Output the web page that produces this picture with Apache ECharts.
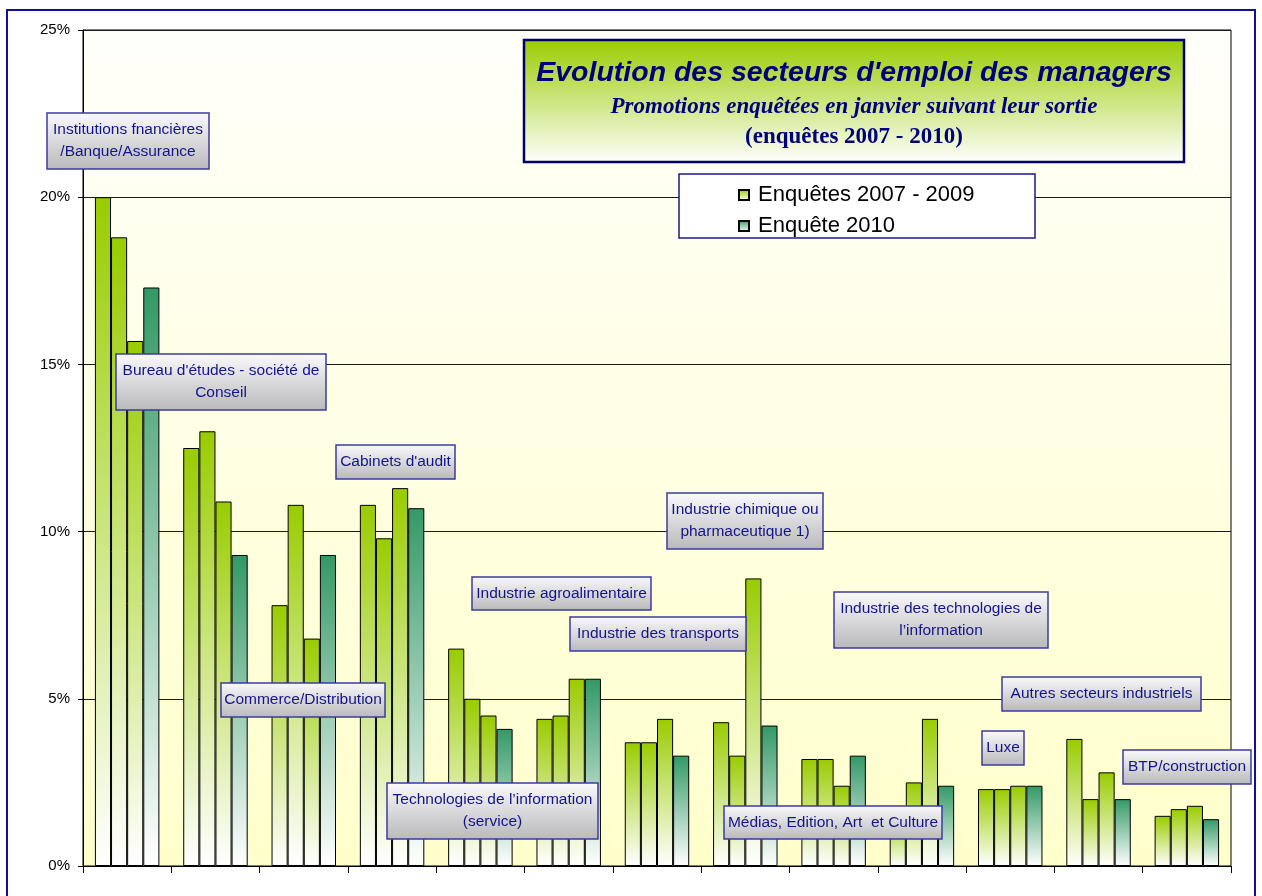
<!DOCTYPE html>
<html>
<head>
<meta charset="utf-8">
<title>Evolution des secteurs d'emploi des managers</title>
<script src="https://cdn.jsdelivr.net/npm/echarts@6/dist/echarts.min.js"></script>
<style>
  * { margin: 0; padding: 0; }
  html, body { background: #fff; }
  #chart { width: 1262px; height: 896px; }
</style>
</head>
<body>
<div id="chart"></div>
<script>
// secteurs, dans l'ordre des groupes de barres
var secteurs = [
  'Institutions fnancières\n/Banque/Assurance',
  "Bureau d'études - société de\nConseil",
  'Commerce/Distribution',
  "Cabinets d'audit",
  'Technologies de l’information\n(service)',
  'Industrie agroalimentaire',
  'Industrie des transports',
  'Industrie chimique ou\npharmaceutique 1)',
  'Médias, Edition, Art  et Culture',
  'Industrie des technologies de\nl’information',
  'Luxe',
  'Autres secteurs industriels',
  'BTP/construction'
];
// parts (%)
var enquete2007 = [20.0, 12.5, 7.8, 10.8, 6.5, 4.4, 3.7, 4.3, 3.2, 1.5, 2.3, 3.8, 1.5];
var enquete2008 = [18.8, 13.0, 10.8, 9.8, 5.0, 4.5, 3.7, 3.3, 3.2, 2.5, 2.3, 2.0, 1.7];
var enquete2009 = [15.7, 10.9, 6.8, 11.3, 4.5, 5.6, 4.4, 8.6, 2.4, 4.4, 2.4, 2.8, 1.8];
var enquete2010 = [17.3, 9.3, 9.3, 10.7, 4.1, 5.6, 3.3, 4.2, 3.3, 2.4, 2.4, 2.0, 1.4];
var yTicks = [0, 5, 10, 15, 20, 25];

var NOM_0709 = 'Enquêtes 2007 - 2009';
var NOM_2010 = 'Enquête 2010';

// boites des étiquettes de secteur [x, y, largeur, hauteur]
var boites = [
  [47, 113, 162, 56],
  [116, 354, 210, 56],
  [221, 683, 164, 34],
  [336, 445, 119, 34],
  [387, 783, 211, 56],
  [472, 577, 179, 33],
  [570, 617, 176, 34],
  [667, 493, 156, 56],
  [724, 806, 218, 33],
  [834, 592, 214, 56],
  [982, 731, 42, 34],
  [1002, 677, 199, 34],
  [1123, 750, 128, 34]
];

function degrade(haut) {
  return new echarts.graphic.LinearGradient(0, 0, 0, 1, [
    { offset: 0, color: haut },
    { offset: 1, color: '#ffffff' }
  ]);
}

function serieBarre(nom, data, couleur) {
  return {
    name: nom,
    type: 'bar',
    data: data,
    barGap: '0%',
    barCategoryGap: '27%',
    itemStyle: {
      color: degrade(couleur),
      borderColor: '#000',
      borderWidth: 1
    },
    emphasis: { disabled: true }
  };
}

var etiquettes = [];
secteurs.forEach(function (txt, i) {
  var b = boites[i];
  etiquettes.push({
    type: 'rect',
    z: 100,
    shape: { x: b[0], y: b[1], width: b[2], height: b[3] },
    style: {
      fill: new echarts.graphic.LinearGradient(0, 0, 0, 1, [
        { offset: 0, color: '#fafafd' },
        { offset: 1, color: '#b9b9bb' }
      ]),
      stroke: '#3b3ba0',
      lineWidth: 1.5
    }
  });
  etiquettes.push({
    type: 'text',
    z: 101,
    x: b[0] + b[2] / 2,
    y: b[1] + b[3] / 2,
    style: {
      text: txt,
      align: 'center',
      verticalAlign: 'middle',
      font: '15.5px "Liberation Sans", Arial, sans-serif',
      lineHeight: 22,
      fill: '#14148a'
    }
  });
});

var chart = echarts.init(document.getElementById('chart'));
chart.setOption({
  animation: false,
  grid: {
    left: 83,
    right: 31,
    top: 30,
    bottom: 30,
    show: true,
    borderColor: '#000',
    borderWidth: 1,
    backgroundColor: new echarts.graphic.LinearGradient(0, 0, 0, 1, [
      { offset: 0, color: '#fffffa' },
      { offset: 1, color: '#ffffcc' }
    ])
  },
  legend: {
    data: [NOM_0709, NOM_2010],
    orient: 'vertical',
    left: 733,
    top: 179,
    z: 101,
    icon: 'rect',
    itemWidth: 10,
    itemHeight: 10,
    itemGap: 9,
    selectedMode: false,
    textStyle: {
      fontFamily: '"Liberation Sans", Arial, sans-serif',
      fontSize: 22,
      lineHeight: 22,
      color: '#000',
      padding: [0, 0, 0, 4]
    }
  },
  xAxis: {
    type: 'category',
    data: secteurs,
    axisLine: { lineStyle: { color: '#000', width: 1 } },
    axisTick: { show: true, interval: 0, length: 7, lineStyle: { color: '#000' } },
    axisLabel: { show: false, interval: 0 },
    splitLine: { show: false }
  },
  yAxis: {
    type: 'value',
    min: yTicks[0],
    max: yTicks[yTicks.length - 1],
    interval: 5,
    axisLine: { show: true, lineStyle: { color: '#000', width: 1 } },
    axisTick: { show: true, length: 5, lineStyle: { color: '#000' } },
    axisLabel: {
      formatter: '{value}%',
      margin: 13,
      color: '#000',
      fontSize: 15,
      fontFamily: '"Liberation Sans", Arial, sans-serif'
    },
    splitLine: { lineStyle: { color: '#1a1a1a', width: 1 } }
  },
  series: [
    serieBarre(NOM_0709, enquete2007, '#99cc00'),
    serieBarre(NOM_0709, enquete2008, '#99cc00'),
    serieBarre(NOM_0709, enquete2009, '#99cc00'),
    serieBarre(NOM_2010, enquete2010, '#339966')
  ],
  graphic: [
    // cadre extérieur
    {
      type: 'rect',
      z: 50,
      shape: { x: 7, y: 10, width: 1248, height: 900 },
      style: { fill: 'none', stroke: '#10109a', lineWidth: 2 }
    },
    // cartouche du titre
    {
      type: 'rect',
      z: 100,
      shape: { x: 524, y: 40, width: 660, height: 122 },
      style: {
        fill: new echarts.graphic.LinearGradient(0, 0, 0, 1, [
          { offset: 0, color: '#99cc00' },
          { offset: 1, color: '#ffffff' }
        ]),
        stroke: '#000066',
        lineWidth: 2.5
      }
    },
    {
      type: 'text',
      z: 101,
      x: 854,
      y: 73,
      style: {
        text: "Evolution des secteurs d'emploi des managers",
        align: 'center',
        verticalAlign: 'middle',
        font: 'italic bold 28.5px "Liberation Sans", Arial, sans-serif',
        fill: '#00007a'
      }
    },
    {
      type: 'text',
      z: 101,
      x: 854,
      y: 107,
      style: {
        text: 'Promotions enquêtées en janvier suivant leur sortie',
        align: 'center',
        verticalAlign: 'middle',
        font: 'italic bold 23px "Liberation Serif", "Times New Roman", serif',
        fill: '#00007a'
      }
    },
    {
      type: 'text',
      z: 101,
      x: 854,
      y: 137,
      style: {
        text: '(enquêtes 2007 - 2010)',
        align: 'center',
        verticalAlign: 'middle',
        font: 'bold 23px "Liberation Serif", "Times New Roman", serif',
        fill: '#00007a'
      }
    },
    // cadre de la légende
    {
      type: 'rect',
      z: 100,
      shape: { x: 679, y: 174, width: 356, height: 64 },
      style: { fill: '#fff', stroke: '#1a1a8c', lineWidth: 1.5 }
    }
  ].concat(etiquettes)
});
</script>
</body>
</html>
